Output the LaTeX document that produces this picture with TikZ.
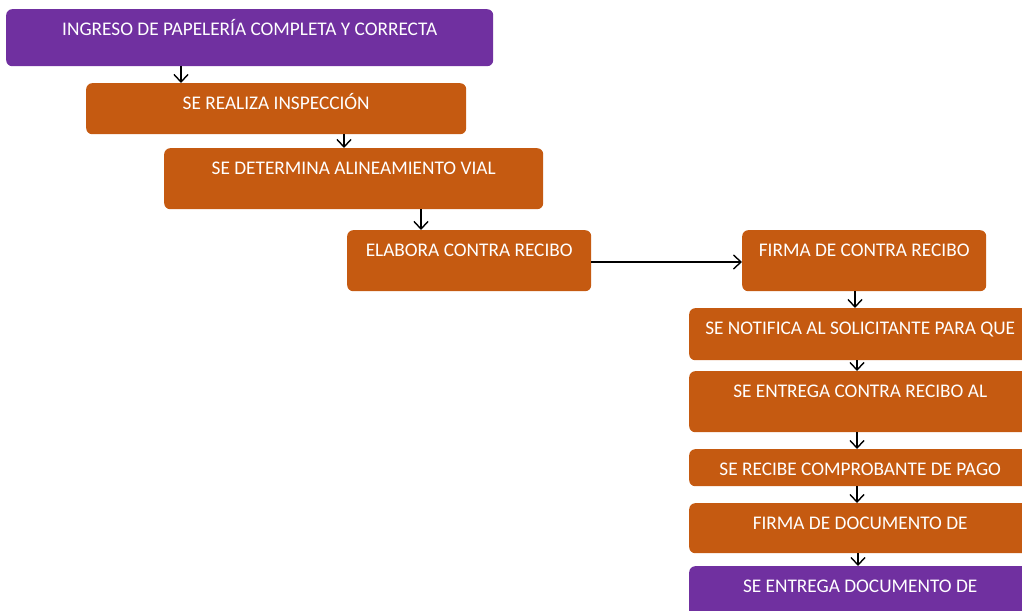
\documentclass[tikz,border=0pt]{standalone}
\usepackage{fontspec}
\setmainfont{Carlito}
\usetikzlibrary{arrows.meta}
\definecolor{orng}{HTML}{C55A11}
\definecolor{purp}{HTML}{7030A0}
\begin{document}
\begin{tikzpicture}[x=1pt,y=-1pt,
  box/.style={rounded corners=6pt, inner sep=0pt, text=white, font=\fontsize{19.3}{22}\selectfont, anchor=north west, text height=26pt},
  obox/.style={box, fill=orng},
  pbox/.style={box, fill=purp},
  arr/.style={-{Straight Barb[length=7.5pt,width=14pt]}, line width=1.4pt}]
\useasboundingbox (0,0) rectangle (1022,610);
\clip (0,0) rectangle (1022,610);
\node[pbox, minimum width=487pt, text depth=31pt] (b1) at (6,9) {INGRESO DE PAPELERÍA COMPLETA Y CORRECTA};
\node[obox, minimum width=380pt, text depth=25pt] (b2) at (86,83) {SE REALIZA INSPECCIÓN};
\node[obox, minimum width=379pt, text depth=35pt] (b3) at (164,148) {SE DETERMINA ALINEAMIENTO VIAL};
\node[obox, minimum width=244pt, text depth=35pt] (b4) at (347,230) {ELABORA CONTRA RECIBO};
\node[obox, minimum width=244pt, text depth=35pt] (b5) at (742,230) {FIRMA DE CONTRA RECIBO};
\node[obox, minimum width=342pt, text depth=26pt] (b6) at (689,308) {SE NOTIFICA AL SOLICITANTE PARA QUE};
\node[obox, minimum width=342pt, text depth=35pt] (b7) at (689,371) {SE ENTREGA CONTRA RECIBO AL};
\node[obox, minimum width=342pt, text depth=11pt] (b8) at (689,449) {SE RECIBE COMPROBANTE DE PAGO};
\node[obox, minimum width=342pt, text depth=24pt] (b9) at (689,503) {FIRMA DE DOCUMENTO DE};
\node[pbox, minimum width=342pt, text depth=34pt] (b10) at (689,566) {SE ENTREGA DOCUMENTO DE};
\coordinate (x1) at (181,0);
\coordinate (x2) at (344,0);
\coordinate (x3) at (421,0);
\coordinate (x5) at (855,0);
\coordinate (x6) at (857,0);
\coordinate (x7) at (857,0);
\coordinate (x8) at (857,0);
\coordinate (x9) at (858,0);
\coordinate (yh) at (0,262);
\draw[arr] (b1.south -| x1) -- (b2.north -| x1);
\draw[arr] (b2.south -| x2) -- (b3.north -| x2);
\draw[arr] (b3.south -| x3) -- (b4.north -| x3);
\draw[arr] (b4.east |- yh) -- (b5.west |- yh);
\draw[arr] (b5.south -| x5) -- (b6.north -| x5);
\draw[arr] (b6.south -| x6) -- (b7.north -| x6);
\draw[arr] (b7.south -| x7) -- (b8.north -| x7);
\draw[arr] (b8.south -| x8) -- (b9.north -| x8);
\draw[arr] (b9.south -| x9) -- (b10.north -| x9);
\end{tikzpicture}
\end{document}
